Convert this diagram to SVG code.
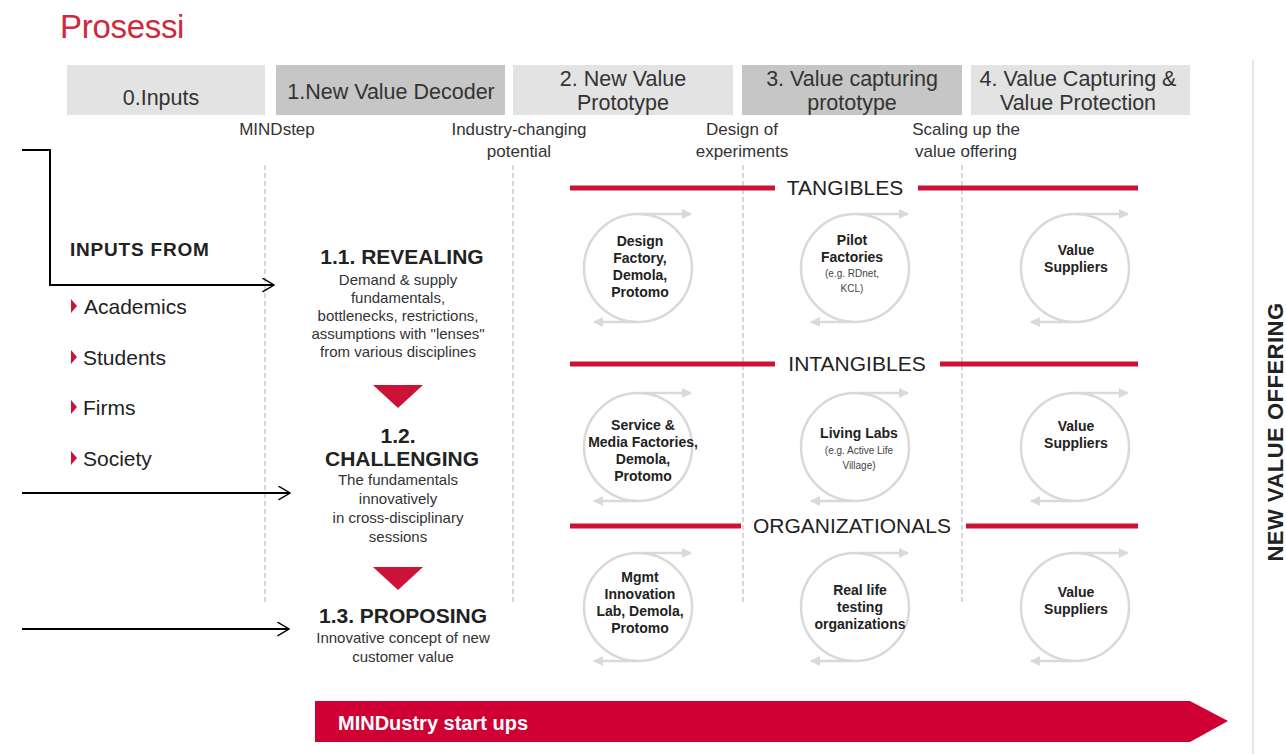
<svg xmlns="http://www.w3.org/2000/svg" width="1286" height="754" viewBox="0 0 1286 754">
<style>
text{font-family:"Liberation Sans",Arial,sans-serif;fill:#222}
.hdr{font-size:21.5px;text-anchor:middle;fill:#333}
.sub{font-size:17px;text-anchor:middle;fill:#333}
.cat{font-size:21px;text-anchor:middle;fill:#222}
.ct{font-size:14px;font-weight:bold;text-anchor:middle;fill:#222}
.cs{font-size:10px;text-anchor:middle;fill:#444}
.step{font-size:21px;font-weight:bold;text-anchor:middle;fill:#222}
.desc{font-size:15px;text-anchor:middle;fill:#333}
.inp{font-size:21px;fill:#222}
.dash{stroke:#c4c4c4;stroke-width:1.3;stroke-dasharray:5,3;fill:none}
.red{stroke:#cc1236;stroke-width:5;fill:none}
.circ{stroke:#d9d9d9;stroke-width:2.5;fill:none}
.carr{stroke:#d9d9d9;stroke-width:2.5;fill:none;marker-end:url(#garr)}
.conn{stroke:#000;stroke-width:2;fill:none;marker-end:url(#barr)}
</style>
<defs>
<marker id="garr" viewBox="0 0 10 10" refX="9" refY="5" markerWidth="4" markerHeight="4" orient="auto" markerUnits="strokeWidth">
<path d="M0,0 L10,5 L0,10 z" fill="#d9d9d9"/>
</marker>
<marker id="barr" viewBox="0 0 22 26" refX="21" refY="13" markerWidth="13" markerHeight="15" orient="auto" markerUnits="userSpaceOnUse">
<path d="M1,1 L21,13 L1,25" fill="none" stroke="#000" stroke-width="2.4"/>
</marker>
</defs>
<rect width="1286" height="754" fill="#fff"/>

<text x="60" y="38" style="font-size:33px;fill:#cf2a3b;letter-spacing:-0.3px">Prosessi</text>

<g id="header">
<rect x="67" y="65" width="198" height="50" fill="#e3e3e3"/>
<text class="hdr" x="161" y="105">0.Inputs</text>
<rect x="276" y="65" width="229" height="50" fill="#c6c6c6"/>
<text class="hdr" x="391" y="99">1.New Value Decoder</text>
<rect x="513" y="65" width="220" height="50" fill="#e3e3e3"/>
<text class="hdr" x="623" y="86">2. New Value</text>
<text class="hdr" x="623" y="110">Prototype</text>
<rect x="742" y="65" width="220" height="50" fill="#c6c6c6"/>
<text class="hdr" x="852" y="86">3. Value capturing</text>
<text class="hdr" x="852" y="110">prototype</text>
<rect x="971" y="65" width="219" height="50" fill="#e3e3e3"/>
<text class="hdr" x="1078" y="86">4. Value Capturing &amp;</text>
<text class="hdr" x="1078" y="110">Value Protection</text>
</g>

<g id="milestones">
<text class="sub" x="277" y="135">MINDstep</text>
<text class="sub" x="519" y="135">Industry-changing</text>
<text class="sub" x="519" y="157">potential</text>
<text class="sub" x="742" y="135">Design of</text>
<text class="sub" x="742" y="157">experiments</text>
<text class="sub" x="966" y="135">Scaling up the</text>
<text class="sub" x="966" y="157">value offering</text>
</g>

<g id="grid">
<line class="dash" x1="265" y1="165" x2="265" y2="602"/>
<line class="dash" x1="513" y1="165" x2="513" y2="602"/>
<line class="dash" x1="743" y1="165" x2="743" y2="602"/>
<line class="dash" x1="962" y1="165" x2="962" y2="602"/>
<line x1="1253" y1="60" x2="1253" y2="754" stroke="#dcdcdc" stroke-width="1.5"/>
</g>

<g id="categories">
<line class="red" x1="570" y1="188" x2="775" y2="188"/>
<line class="red" x1="918" y1="188" x2="1138" y2="188"/>
<text class="cat" x="845" y="195">TANGIBLES</text>
<line class="red" x1="570" y1="364" x2="775" y2="364"/>
<line class="red" x1="940" y1="364" x2="1138" y2="364"/>
<text class="cat" x="857" y="371">INTANGIBLES</text>
<line class="red" x1="570" y1="526" x2="741" y2="526"/>
<line class="red" x1="966" y1="526" x2="1138" y2="526"/>
<text class="cat" x="852" y="533">ORGANIZATIONALS</text>
</g>

<g id="inputs">
<text x="70" y="256" style="font-size:19px;font-weight:bold;letter-spacing:0.8px">INPUTS FROM</text>
<path d="M71,299 L77,306 L71,313 z" fill="#cc1236"/>
<text class="inp" x="84" y="314">Academics</text>
<path d="M71,350 L77,357 L71,364 z" fill="#cc1236"/>
<text class="inp" x="83" y="365">Students</text>
<path d="M71,400 L77,407 L71,414 z" fill="#cc1236"/>
<text class="inp" x="83" y="415">Firms</text>
<path d="M71,451 L77,458 L71,465 z" fill="#cc1236"/>
<text class="inp" x="83" y="466">Society</text>
</g>

<g id="decoder">
<text class="step" x="402" y="264">1.1. REVEALING</text>
<text class="desc" x="398" y="285">Demand &amp; supply</text>
<text class="desc" x="398" y="303">fundamentals,</text>
<text class="desc" x="398" y="321">bottlenecks, restrictions,</text>
<text class="desc" x="398" y="339">assumptions with "lenses"</text>
<text class="desc" x="398" y="357">from various disciplines</text>
<path d="M373,385 L423,385 L398,408 z" fill="#cc1236"/>
<text class="step" x="398" y="443">1.2.</text>
<text class="step" x="402" y="466">CHALLENGING</text>
<text class="desc" x="398" y="485">The fundamentals</text>
<text class="desc" x="398" y="504">innovatively</text>
<text class="desc" x="398" y="523">in cross-disciplinary</text>
<text class="desc" x="398" y="542">sessions</text>
<path d="M373,567 L423,567 L398,590 z" fill="#cc1236"/>
<text class="step" x="403" y="623">1.3. PROPOSING</text>
<text class="desc" x="403" y="643">Innovative concept of new</text>
<text class="desc" x="403" y="662">customer value</text>
</g>

<g id="connectors">
<path class="conn" d="M22,150 L50,150 L50,285 L274,285"/>
<path class="conn" d="M22,493 L290,493"/>
<path class="conn" d="M22,629 L289,629"/>
</g>

<g id="c11">
<circle class="circ" cx="638" cy="268" r="54"/>
<path class="carr" d="M640,214 L691,214"/>
<path class="carr" d="M636,322 L594,322"/>
<text class="ct" x="640" y="246">Design</text>
<text class="ct" x="640" y="263">Factory,</text>
<text class="ct" x="640" y="280">Demola,</text>
<text class="ct" x="640" y="297">Protomo</text>
</g>
<g id="c12">
<circle class="circ" cx="855" cy="268" r="54"/>
<path class="carr" d="M857,214 L908,214"/>
<path class="carr" d="M853,322 L811,322"/>
<text class="ct" x="852" y="245">Pilot</text>
<text class="ct" x="852" y="262">Factories</text>
<text class="cs" x="852" y="277">(e.g. RDnet,</text>
<text class="cs" x="852" y="292">KCL)</text>
</g>
<g id="c13">
<circle class="circ" cx="1075" cy="268" r="54"/>
<path class="carr" d="M1077,214 L1128,214"/>
<path class="carr" d="M1073,322 L1031,322"/>
<text class="ct" x="1076" y="255">Value</text>
<text class="ct" x="1076" y="272">Suppliers</text>
</g>

<g id="c21">
<circle class="circ" cx="638" cy="447" r="54"/>
<path class="carr" d="M640,393 L691,393"/>
<path class="carr" d="M636,501 L594,501"/>
<text class="ct" x="643" y="430">Service &amp;</text>
<text class="ct" x="643" y="447">Media Factories,</text>
<text class="ct" x="643" y="464">Demola,</text>
<text class="ct" x="643" y="481">Protomo</text>
</g>
<g id="c22">
<circle class="circ" cx="855" cy="447" r="54"/>
<path class="carr" d="M857,393 L908,393"/>
<path class="carr" d="M853,501 L811,501"/>
<text class="ct" x="859" y="438">Living Labs</text>
<text class="cs" x="859" y="454">(e.g. Active Life</text>
<text class="cs" x="859" y="469">Village)</text>
</g>
<g id="c23">
<circle class="circ" cx="1075" cy="447" r="54"/>
<path class="carr" d="M1077,393 L1128,393"/>
<path class="carr" d="M1073,501 L1031,501"/>
<text class="ct" x="1076" y="431">Value</text>
<text class="ct" x="1076" y="448">Suppliers</text>
</g>

<g id="c31">
<circle class="circ" cx="638" cy="607" r="54"/>
<path class="carr" d="M640,553 L691,553"/>
<path class="carr" d="M636,661 L594,661"/>
<text class="ct" x="640" y="582">Mgmt</text>
<text class="ct" x="640" y="599">Innovation</text>
<text class="ct" x="640" y="616">Lab, Demola,</text>
<text class="ct" x="640" y="633">Protomo</text>
</g>
<g id="c32">
<circle class="circ" cx="855" cy="607" r="54"/>
<path class="carr" d="M857,553 L908,553"/>
<path class="carr" d="M853,661 L811,661"/>
<text class="ct" x="860" y="595">Real life</text>
<text class="ct" x="860" y="612">testing</text>
<text class="ct" x="860" y="629">organizations</text>
</g>
<g id="c33">
<circle class="circ" cx="1075" cy="607" r="54"/>
<path class="carr" d="M1077,553 L1128,553"/>
<path class="carr" d="M1073,661 L1031,661"/>
<text class="ct" x="1076" y="597">Value</text>
<text class="ct" x="1076" y="614">Suppliers</text>
</g>

<g id="side">
<text x="1283" y="432" transform="rotate(-90 1283 432)" style="font-size:22px;font-weight:bold;text-anchor:middle;fill:#222;letter-spacing:0.5px">NEW VALUE OFFERING</text>
</g>

<g id="banner">
<path d="M315,701 L1190,701 L1228,721 L1190,742 L315,742 z" fill="#d10034"/>
<text x="338" y="730" style="font-size:20px;font-weight:bold;fill:#fff">MINDustry start ups</text>
</g>
</svg>
